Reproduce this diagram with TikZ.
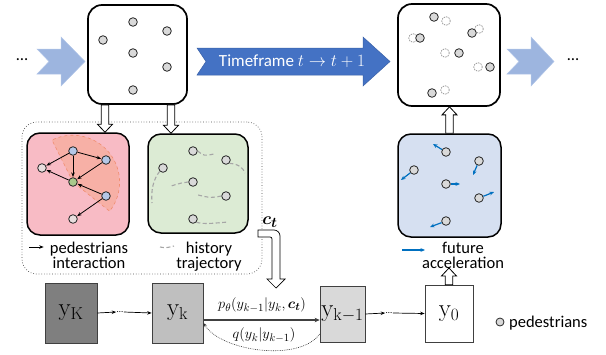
\documentclass[tikz,border=0pt]{standalone}
\usepackage{amsmath}
\usepackage[no-math]{fontspec}
\setmainfont{Carlito}
\usetikzlibrary{arrows.meta,calc}

\definecolor{chevlight}{RGB}{157,181,223}
\definecolor{chevedge}{RGB}{178,198,232}
\definecolor{timeblue}{RGB}{68,114,196}
\definecolor{pinkbg}{RGB}{248,187,197}
\definecolor{wedge}{RGB}{247,176,166}
\definecolor{wedgeedge}{RGB}{240,140,110}
\definecolor{greenbg}{RGB}{220,235,212}
\definecolor{bluebg}{RGB}{214,224,241}
\definecolor{nodeblue}{RGB}{180,199,231}
\definecolor{nodepale}{RGB}{232,222,222}
\definecolor{nodegreen}{RGB}{169,201,140}
\definecolor{pedgray}{RGB}{217,217,217}
\definecolor{trajgray}{RGB}{166,166,166}
\definecolor{accblue}{RGB}{0,112,192}
\definecolor{stepdark}{RGB}{127,127,127}
\definecolor{stepmid}{RGB}{191,191,191}
\definecolor{steplight}{RGB}{217,217,217}

% hollow block arrows, x taken from the first point, tip at the y of the second
\newcommand\blockdn[2]{%
  \draw[blockarr] let \p1=(#1), \p2=(#2) in
  (\x1-3.7pt,\y1) -- (\x1-3.7pt,\y2+8pt) -- (\x1-7.5pt,\y2+8pt) -- (\x1,\y2)
  -- (\x1+7.5pt,\y2+8pt) -- (\x1+3.7pt,\y2+8pt) -- (\x1+3.7pt,\y1) -- cycle;}
\newcommand\blockup[2]{%
  \draw[blockarr] let \p1=(#1), \p2=(#2) in
  (\x1-3.7pt,\y1) -- (\x1-3.7pt,\y2-8pt) -- (\x1-7.5pt,\y2-8pt) -- (\x1,\y2)
  -- (\x1+7.5pt,\y2-8pt) -- (\x1+3.7pt,\y2-8pt) -- (\x1+3.7pt,\y1) -- cycle;}

\begin{document}
\begin{tikzpicture}[x=1pt,y=-1pt,
  lbl/.style={font=\fontsize{16.5}{15.5}\selectfont, align=center, inner sep=0pt},
  frame/.style={draw=black, line width=1.7pt, rounded corners=14pt, inner sep=0pt},
  subframe/.style={draw=black, line width=1.5pt, rounded corners=13pt, inner sep=0pt},
  ped/.style={circle, draw=black!85, line width=0.8pt, fill=pedgray, minimum size=8.6pt, inner sep=0pt},
  ghost/.style={circle, draw=black!45, dashed, dash pattern=on 1.5pt off 1pt, line width=0.7pt, minimum size=8.6pt, inner sep=0pt},
  edge/.style={-{Stealth[length=4.5pt,width=3.5pt]}, line width=0.8pt, shorten >=0.3pt},
  traj/.style={draw=trajgray, line width=1.1pt, dash pattern=on 4pt off 2.5pt},
  acc/.style={draw=accblue, line width=1.2pt, -{Stealth[length=4.5pt,width=3.8pt]}},
  blockarr/.style={draw=black, line width=0.8pt, fill=white},
  stepbox/.style={draw=black!75, line width=0.7pt, inner sep=0pt, font=\fontsize{24}{26}\selectfont},
  flow/.style={-{Stealth[length=4.5pt,width=3.5pt]}, line width=0.7pt},
]
\useasboundingbox (0,0) rectangle (606,354);

% ---------- top row: chevrons and time step arrow ----------
\node[lbl] (dotsL) at (22,60) {\dots};
\draw[fill=chevlight, draw=chevedge, line width=0.5pt]
  (37,49) -- (61,49) -- (61,37) -- (85,61.5) -- (61,86) -- (61,74) -- (37,74) -- (49,61.5) -- cycle;
\draw[fill=timeblue, draw=timeblue!85!black, line width=0.5pt]
  (197,48) -- (363,48) -- (363,37) -- (390,61.5) -- (363,86) -- (363,75) -- (197,75) -- (206,61.5) -- cycle;
\node[lbl, text=white, font=\fontsize{17}{18}\selectfont] (tf) at (292,61.5) {Timeframe $t \rightarrow t+1$};
\draw[fill=chevlight, draw=chevedge, line width=0.5pt]
  (507,49) -- (531,49) -- (531,37) -- (554,61.5) -- (531,86) -- (531,74) -- (507,74) -- (519,61.5) -- cycle;
\node[lbl] (dotsR) at (573,60) {\dots};

% frame at time t
\node[frame, minimum width=99pt, minimum height=99pt] (frameA) at (137.5,54.5) {};
\node[ped] (a1) at (133,22) {};
\node[ped] (a2) at (167,31) {};
\node[ped] (a3) at (103,40) {};
\node[ped] (a4) at (133,53) {};
\node[ped] (a5) at (167,67) {};
\node[ped] (a6) at (133,90) {};

% frame at time t+1 (previous positions dashed)
\node[frame, minimum width=102pt, minimum height=102pt] (frameB) at (449,55) {};
\node[ghost] (o1) at (446,21) {};
\node[ghost] (o2) at (413,38) {};
\node[ghost] (o3) at (479,29) {};
\node[ghost] (o4) at (445,53) {};
\node[ghost] (o5) at (478,67) {};
\node[ghost] (o6) at (445,90) {};
\node[ped] (n1) at (434,17) {};
\node[ped] (n2) at (420,38) {};
\node[ped] (n3) at (472,33) {};
\node[ped] (n4) at (459,53) {};
\node[ped] (n5) at (490,67) {};
\node[ped] (n6) at (432,93) {};

% ---------- condition encoder group ----------
\node[draw=black!70, dotted, line width=0.7pt, rounded corners=15pt, minimum width=240pt, minimum height=152pt, inner sep=0pt] (group) at (142,198) {};

% interaction panel
\node[subframe, fill=pinkbg, minimum width=102pt, minimum height=102pt] (pink) at (78,184) {};
\coordinate (gc) at (73,182);
\fill[wedge] (gc) -- ++(-21,-42) arc[start angle=-116, end angle=38, radius=47] -- cycle;
\draw[wedgeedge, dashed, line width=0.6pt] (gc) -- ++(-21,-42) arc[start angle=-116, end angle=38, radius=47] -- cycle;
\node[ped, fill=nodeblue] (p1) at (73,151) {};
\node[ped, fill=nodeblue] (p2) at (106,160) {};
\node[ped, fill=nodepale] (p3) at (42,168) {};
\node[ped, fill=nodegreen] (g) at (73,182) {};
\node[ped, fill=nodeblue] (p5) at (106,196) {};
\node[ped, fill=nodepale] (p6) at (73,219) {};
\draw[edge] (p1) -- (p3);
\draw[edge] (p1) -- (p2);
\draw[edge] (p1) -- (g);
\draw[edge] (p2) -- (g);
\draw[edge] (g) -- (p3);
\draw[edge] (p5) -- (g);
\draw[edge] (p5) -- (p6);
\coordinate (legA1) at (29,247);
\coordinate (legA2) at (44,247);
\draw[edge] (legA1) -- (legA2);
\node[lbl, anchor=north] (lblA) at (89,241.5) {pedestrians\\interaction};

% history panel
\node[subframe, fill=greenbg, minimum width=100pt, minimum height=99pt] (green) at (198,183.5) {};
\node[ped] (q1) at (193,151) {};
\node[ped] (q2) at (226,160) {};
\node[ped] (q3) at (163,168) {};
\node[ped] (q4) at (193,182) {};
\node[ped] (q5) at (226,196) {};
\node[ped] (q6) at (193,219) {};
\coordinate (h1) at (214,154);
\coordinate (h2) at (245,173);
\coordinate (h3) at (152,203);
\coordinate (h4) at (171,186);
\coordinate (h5) at (198,195);
\coordinate (h6) at (228,222);
\draw[traj] (q1.east) .. controls (204,156) .. (h1);
\draw[traj] (q2.south east) .. controls (239,164) and (243,168) .. (h2);
\draw[traj] (q3.south west) .. controls (153,180) and (151,190) .. (h3);
\draw[traj] (q4.west) .. controls (181,183) .. (h4);
\draw[traj] (q5.west) .. controls (211,198) .. (h5);
\draw[traj] (q6.south east) .. controls (205,224) .. (h6);
\coordinate (legB1) at (160,247);
\coordinate (legB2) at (174,246);
\draw[traj] (legB1) .. controls (166,248) .. (legB2);
\node[lbl, anchor=north] (lblB) at (209,241.5) {history\\trajectory};

% condition arrow c_t
\node[inner sep=0pt, font=\fontsize{19}{20}\selectfont] (ct) at (270,222) {$\boldsymbol{c_t}$};
\draw[blockarr, line width=0.7pt]
  (258,230) [rounded corners=6pt] -- (280,230) [sharp corners] -- (280,279) -- (285,279)
  -- (276,288) -- (267,279) -- (272,279) [rounded corners=2pt] -- (272,237) [sharp corners] -- (258,237) -- cycle;

% future acceleration panel
\node[subframe, fill=bluebg, minimum width=103pt, minimum height=103pt] (blue) at (449.5,185.5) {};
\node[ped] (b1) at (446,152) {};
\node[ped] (b2) at (479,161) {};
\node[ped] (b3) at (414,170) {};
\node[ped] (b4) at (446,184) {};
\node[ped] (b5) at (479,198) {};
\node[ped] (b6) at (446,221) {};
\coordinate (t1) at (433,144);
\coordinate (t2) at (473,175);
\coordinate (t3) at (401,180);
\coordinate (t4) at (460,184);
\coordinate (t5) at (494,192);
\coordinate (t6) at (430,227);
\draw[acc] (b1) -- (t1);
\draw[acc] (b2) -- (t2);
\draw[acc] (b3) -- (t3);
\draw[acc] (b4) -- (t4);
\draw[acc] (b5) -- (t5);
\draw[acc] (b6) -- (t6);
\coordinate (legC1) at (402,250);
\coordinate (legC2) at (425,250);
\draw[acc] (legC1) -- (legC2);
\node[lbl, anchor=north] (lblC) at (463,241.5) {future\\acceleration};

% block arrows between panels
\blockdn{[xshift=-32.5pt]frameA.south}{pink.north}
\blockdn{[xshift=33.5pt]frameA.south}{green.north}
\blockup{blue.north}{frameB.south}

% ---------- denoising chain ----------
\node[stepbox, fill=stepdark, minimum width=52pt, minimum height=60pt] (yK) at (71,313) {$\mathrm{y}_{\mathrm{K}}$};
\node[stepbox, fill=stepmid, minimum width=51pt, minimum height=60pt] (yk) at (177.5,313) {$\mathrm{y}_{\mathrm{k}}$};
\node[stepbox, fill=steplight, minimum width=45pt, minimum height=56pt] (ykm) at (342.5,314) {$\mathrm{y}_{\mathrm{k-1}}$};
\node[stepbox, fill=white, minimum width=48pt, minimum height=57pt] (y0) at (449,313.5) {$\mathrm{y}_{0}$};
\node[inner sep=0.5pt, font=\fontsize{9}{10}\selectfont] (d1) at (120,312) {\dots};
\node[inner sep=0.5pt, font=\fontsize{9}{10}\selectfont] (d2) at (389,313) {\dots};
\draw[flow] (yK.east) -- (d1.west);
\draw[flow] (d1.east) -- (yk.west);
\draw[flow] (ykm.east) -- (d2.west);
\draw[flow] (d2.east) -- (y0.west);

\draw[black!75, line width=1.5pt, -{Stealth[length=5pt,width=4.5pt]}] ([yshift=-7pt]yk.east) -- ([yshift=-6pt]ykm.west);
\node[inner sep=0pt, font=\fontsize{15.5}{17}\selectfont] (plbl) at (262,305) {$p_\theta(y_{k-1}|y_k,\boldsymbol{c_t})$};
\draw[black!80, line width=0.6pt, dash pattern=on 0.8pt off 1pt, -{Stealth[length=4pt,width=3.5pt]}]
  ([yshift=-20pt]ykm.west) .. controls (300,362) and (222,352) .. ([yshift=-10pt]yk.east);
\node[inner sep=0pt, font=\fontsize{15.5}{17}\selectfont] (qlbl) at (264,335) {$q(y_k|y_{k-1})$};

\coordinate (ytop) at (450,268);
\blockup{y0.north}{ytop}

% legend
\node[ped, minimum size=8pt] (legped) at (500,322) {};
\node[lbl, anchor=base west] (lblD) at (509,327) {pedestrians};
\end{tikzpicture}
\end{document}
